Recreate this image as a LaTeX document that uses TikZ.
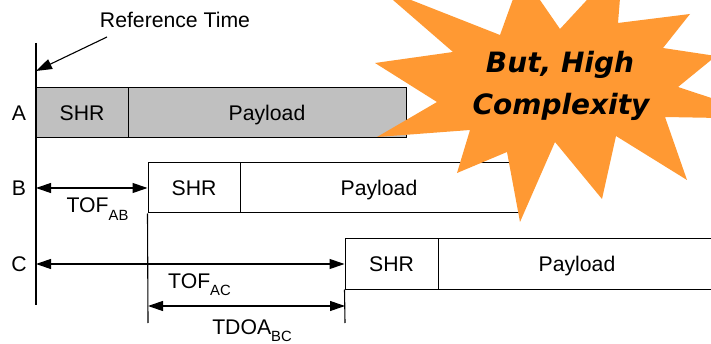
\documentclass[tikz,border=0pt]{standalone}
\usepackage{fontspec}
\setmainfont{Liberation Sans}
\newfontfamily\starfont{DejaVu Sans}
\usetikzlibrary{arrows.meta}
\definecolor{boxgray}{RGB}{192,192,192}
\definecolor{starorange}{RGB}{255,153,51}
\newcommand{\mysub}[1]{\raisebox{-7.5pt}{\fontsize{14.8}{16}\selectfont #1}}
\tikzset{
  fr/.style={draw=black, line width=1pt, inner sep=0pt, minimum height=50pt,
    text height=15pt, text depth=0pt, font=\fontsize{21.2}{24}\selectfont},
  rowlbl/.style={inner sep=0pt, text height=15pt, text depth=0pt, font=\fontsize{21.2}{24}\selectfont},
  lbl/.style={inner sep=0pt, font=\fontsize{21.2}{24}\selectfont},
  ln/.style={line width=1.1pt, black},
  dbl/.style={ln, {Triangle[length=15pt,width=10pt]}-{Triangle[length=15pt,width=10pt]}},
  sgl/.style={ln, -{Triangle[length=16pt,width=10.5pt]}},
  startext/.style={inner sep=0pt, font=\starfont\bfseries\itshape\fontsize{28}{32}\selectfont}
}
\begin{document}
\begin{tikzpicture}[x=1pt,y=-1pt]
\path[use as bounding box] (0,0) rectangle (711,344);
\clip (0,0) rectangle (711,344);

% time axis
\coordinate (axtop) at (36,43);
\coordinate (axbot) at (36,305);
\draw[ln] (axtop) -- (axbot);

% reference time
\node[lbl, anchor=base] (reftext) at (175,28) {Reference Time};
\coordinate (reftail) at (107,37);
\coordinate (reftip) at (36,71);
\draw[sgl] (reftail) -- (reftip);

% row A
\node[fr, fill=boxgray, minimum width=92pt] (ashr) at (82,113) {SHR};
\node[fr, fill=boxgray, minimum width=278pt] (apay) at (267,113) {Payload};
% row B
\node[fr, fill=white, minimum width=92pt] (bshr) at (194,188) {SHR};
\node[fr, fill=white, minimum width=278pt] (bpay) at (379,188) {Payload};
% row C
\node[fr, fill=white, minimum width=93pt] (cshr) at (391.5,264) {SHR};
\node[fr, fill=white, minimum width=278pt] (cpay) at (577,264) {Payload};

% row labels
\node[rowlbl] (la) at (19,113) {A};
\node[rowlbl] (lb) at (19,188) {B};
\node[rowlbl] (lc) at (19,264) {C};

% drop lines
\coordinate (bdrop) at (148,323);
\coordinate (cdrop) at (345,323);
\draw[ln] (bshr.south west) -- (bdrop);
\draw[ln] (cshr.south west) -- (cdrop);

% arrows
\draw[dbl] (axtop |- bshr.west) -- (bshr.west);
\draw[dbl] (axtop |- cshr.west) -- (cshr.west);
\coordinate (tdl) at (148,306);
\coordinate (tdr) at (345,306);
\draw[dbl] (tdl) -- (tdr);

% labels
\node[lbl, anchor=base] (tofab) at (97.5,213) {TOF\mysub{AB}};
\node[lbl, anchor=base] (tofac) at (199.5,288) {TOF\mysub{AC}};
\node[lbl, anchor=base] (tdoa) at (252,334) {TDOA\mysub{BC}};

% starburst
\fill[starorange] (623,-39) -- (618,23) -- (690,14) -- (663,48) -- (716,56) -- (678,87)
  -- (775,119) -- (665,117) -- (687,180) -- (616,136) -- (602,199) -- (555,142)
  -- (520,222) -- (507,152) -- (457,173) -- (470,130) -- (377,137) -- (437,102)
  -- (375,63) -- (453,52) -- (378,-13) -- (500,35) -- (522,-26) -- (560,29) -- cycle;
\node[startext, anchor=base] (but) at (560,73) {But, High};
\node[startext, anchor=base] (cplx) at (561,115) {Complexity};
\end{tikzpicture}
\end{document}
